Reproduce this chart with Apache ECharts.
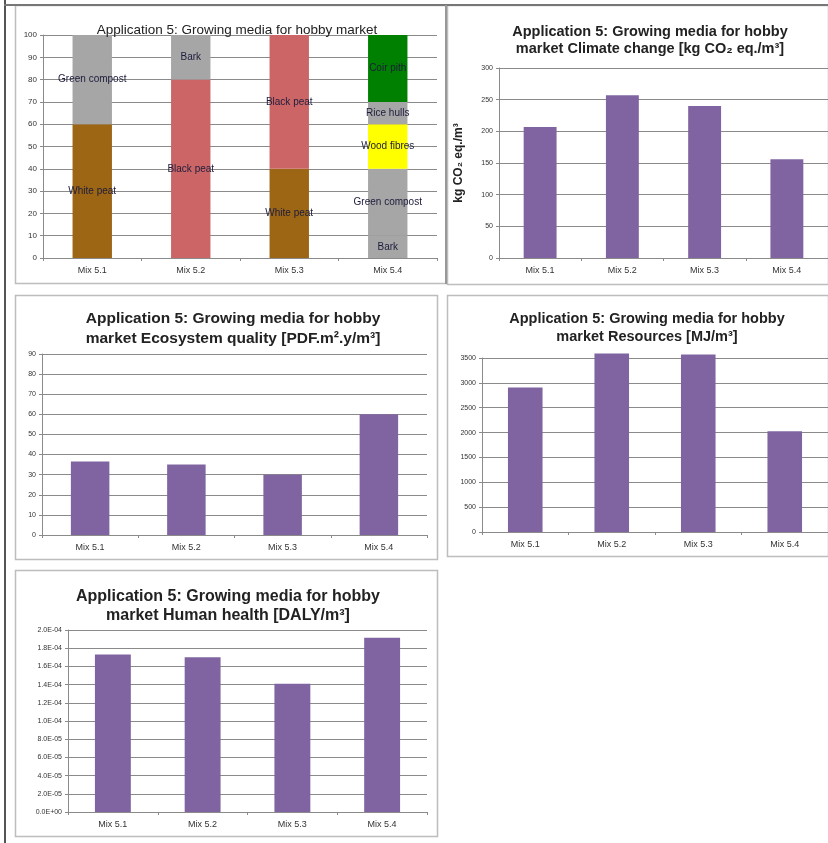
<!DOCTYPE html>
<html>
<head>
<meta charset="utf-8">
<script src="https://cdn.jsdelivr.net/npm/echarts@6/dist/echarts.min.js"></script>
<style>
  html, body { margin: 0; padding: 0; background: #fff; }
  #main { width: 828px; height: 843px; }
</style>
</head>
<body>
<div id="main"></div>
<script>
// categories
var mixes = ['Mix 5.1', 'Mix 5.2', 'Mix 5.3', 'Mix 5.4'];

// composition of each mix (% volume), one array per layer, bottom to top
var whitePeat = [60, 0, 40, 0];
var barkBottom = [0, 0, 0, 10];
var blackPeat = [0, 80, 60, 0];
var greenCompost = [40, 0, 0, 30];
var barkTop = [0, 20, 0, 0];
var woodFibres = [0, 0, 0, 20];
var riceHulls = [0, 0, 0, 10];
var coirPith = [0, 0, 0, 30];

// impact results
var climateChange = [207, 257, 240, 156];
var ecosystemQuality = [36.5, 35, 30, 60];
var resources = [2905, 3590, 3570, 2025];
var humanHealth = [1.73e-4, 1.70e-4, 1.41e-4, 1.915e-4];

var chart = echarts.init(document.getElementById('main'));

var FONT = 'Liberation Sans, Arial, sans-serif';
var GRID_COLOR = '#8a8a8a';
var BAR_COLOR = '#8064A2';

function expLabel(v) {
    if (v === 0) return '0.0E+00';
    var s = v.toExponential(1).toUpperCase(); // e.g. 2.0E-5
    var parts = s.split('E');
    var sign = parts[1].charAt(0);
    var num = parts[1].slice(1);
    if (num.length < 2) num = '0' + num;
    return parts[0] + 'E' + sign + num;
}

function plainLabel(v) {
    return String(v);
}

function catAxis(gridIndex) {
    return {
        type: 'category',
        gridIndex: gridIndex,
        data: mixes,
        axisLine: { lineStyle: { color: GRID_COLOR } },
        axisTick: { show: true, length: 3, lineStyle: { color: GRID_COLOR } },
        axisLabel: { fontFamily: FONT, fontSize: 9, color: '#333', margin: 8 }
    };
}

function valAxis(gridIndex, max, interval, fontSize, formatter) {
    return {
        type: 'value',
        gridIndex: gridIndex,
        min: 0,
        max: max,
        interval: interval,
        axisLine: { show: true, lineStyle: { color: GRID_COLOR } },
        axisTick: { show: true, length: 3, lineStyle: { color: GRID_COLOR } },
        axisLabel: { fontFamily: FONT, fontSize: fontSize, color: '#333', margin: 6, formatter: formatter || plainLabel },
        splitLine: { lineStyle: { color: GRID_COLOR, width: 1 } }
    };
}

function stackSeries(name, data, color) {
    var shown = name.replace(/ \(.*\)$/, '');
    return {
        type: 'bar',
        name: name,
        xAxisIndex: 0,
        yAxisIndex: 0,
        stack: 'mix',
        barWidth: '40%',
        data: data,
        itemStyle: { color: color },
        label: {
            show: true,
            position: 'inside',
            fontFamily: FONT,
            fontSize: 10,
            color: '#1c1c3c',
            formatter: function (p) { return p.value > 0 ? shown : ''; }
        }
    };
}

function impactSeries(idx, data) {
    return {
        type: 'bar',
        xAxisIndex: idx,
        yAxisIndex: idx,
        barWidth: '40%',
        clip: false,
        data: data,
        itemStyle: { color: BAR_COLOR }
    };
}

function titleStyle(size, lh) {
    return { fontFamily: FONT, fontSize: size, fontWeight: 'bold', color: '#222', lineHeight: lh };
}

var panels = [
    [15, 5, 431, 278],
    [447, 5, 381, 279],
    [15, 295, 422, 264],
    [447, 295, 381, 261],
    [15, 570, 422, 266]
];

var graphics = panels.map(function (p) {
    return {
        type: 'rect',
        shape: { x: p[0] + 0.5, y: p[1] + 0.5, width: p[2], height: p[3] },
        style: { fill: null, stroke: '#bdbdbd', lineWidth: 1.5 },
        z: -1
    };
});
graphics.push({ type: 'rect', shape: { x: 4, y: 0, width: 2, height: 843 }, style: { fill: '#555' } });
graphics.push({ type: 'rect', shape: { x: 4, y: 4, width: 824, height: 2 }, style: { fill: '#777' } });
graphics.push({ type: 'rect', shape: { x: 445, y: 5, width: 2, height: 279 }, style: { fill: '#999' } });

var option = {
    animation: false,
    backgroundColor: '#fff',
    title: [
        { text: 'Application 5: Growing media for hobby market', left: 232, top: 17, textAlign: 'center',
          textStyle: { fontFamily: FONT, fontSize: 13.5, fontWeight: 'normal', color: '#222', lineHeight: 16 } },
        { text: 'Application 5: Growing media for hobby\nmarket Climate change [kg CO₂ eq./m³]', left: 645, top: 18, textAlign: 'center',
          textStyle: titleStyle(14.5, 17) },
        { text: 'Application 5: Growing media for hobby\nmarket Ecosystem quality [PDF.m².y/m³]', left: 228, top: 304, textAlign: 'center',
          textStyle: titleStyle(15.5, 20) },
        { text: 'Application 5: Growing media for hobby\nmarket Resources [MJ/m³]', left: 642, top: 305, textAlign: 'center',
          textStyle: titleStyle(14.5, 18) },
        { text: 'Application 5: Growing media for hobby\nmarket Human health [DALY/m³]', left: 223, top: 582, textAlign: 'center',
          textStyle: titleStyle(16, 19) }
    ],
    grid: [
        { left: 43, right: 391, top: 35, bottom: 585 },
        { left: 499, right: 0, top: 68, bottom: 585 },
        { left: 42, right: 401, top: 354, bottom: 308 },
        { left: 482, right: 0, top: 358, bottom: 311 },
        { left: 68, right: 401, top: 630, bottom: 31 }
    ],
    xAxis: [catAxis(0), catAxis(1), catAxis(2), catAxis(3), catAxis(4)],
    yAxis: [
        valAxis(0, 100, 10, 8),
        Object.assign(valAxis(1, 300, 50, 7), {
            name: 'kg CO₂ eq./m³',
            nameLocation: 'middle',
            nameRotate: 90,
            nameGap: 34,
            nameTextStyle: { fontFamily: FONT, fontSize: 12, fontWeight: 'bold', color: '#222' }
        }),
        valAxis(2, 90, 10, 7),
        valAxis(3, 3500, 500, 7),
        valAxis(4, 2e-4, 2e-5, 7, expLabel)
    ],
    graphic: graphics,
    series: [
        stackSeries('White peat', whitePeat, '#9C6615'),
        stackSeries('Bark (bottom)', barkBottom, '#A6A6A6'),
        stackSeries('Black peat', blackPeat, '#CC6666'),
        stackSeries('Green compost', greenCompost, '#A6A6A6'),
        stackSeries('Bark (top)', barkTop, '#A6A6A6'),
        stackSeries('Wood fibres', woodFibres, '#FFFF00'),
        stackSeries('Rice hulls', riceHulls, '#A6A6A6'),
        stackSeries('Coir pith', coirPith, '#008000'),
        impactSeries(1, climateChange),
        impactSeries(2, ecosystemQuality),
        impactSeries(3, resources),
        impactSeries(4, humanHealth)
    ]
};

chart.setOption(option);
</script>
</body>
</html>
